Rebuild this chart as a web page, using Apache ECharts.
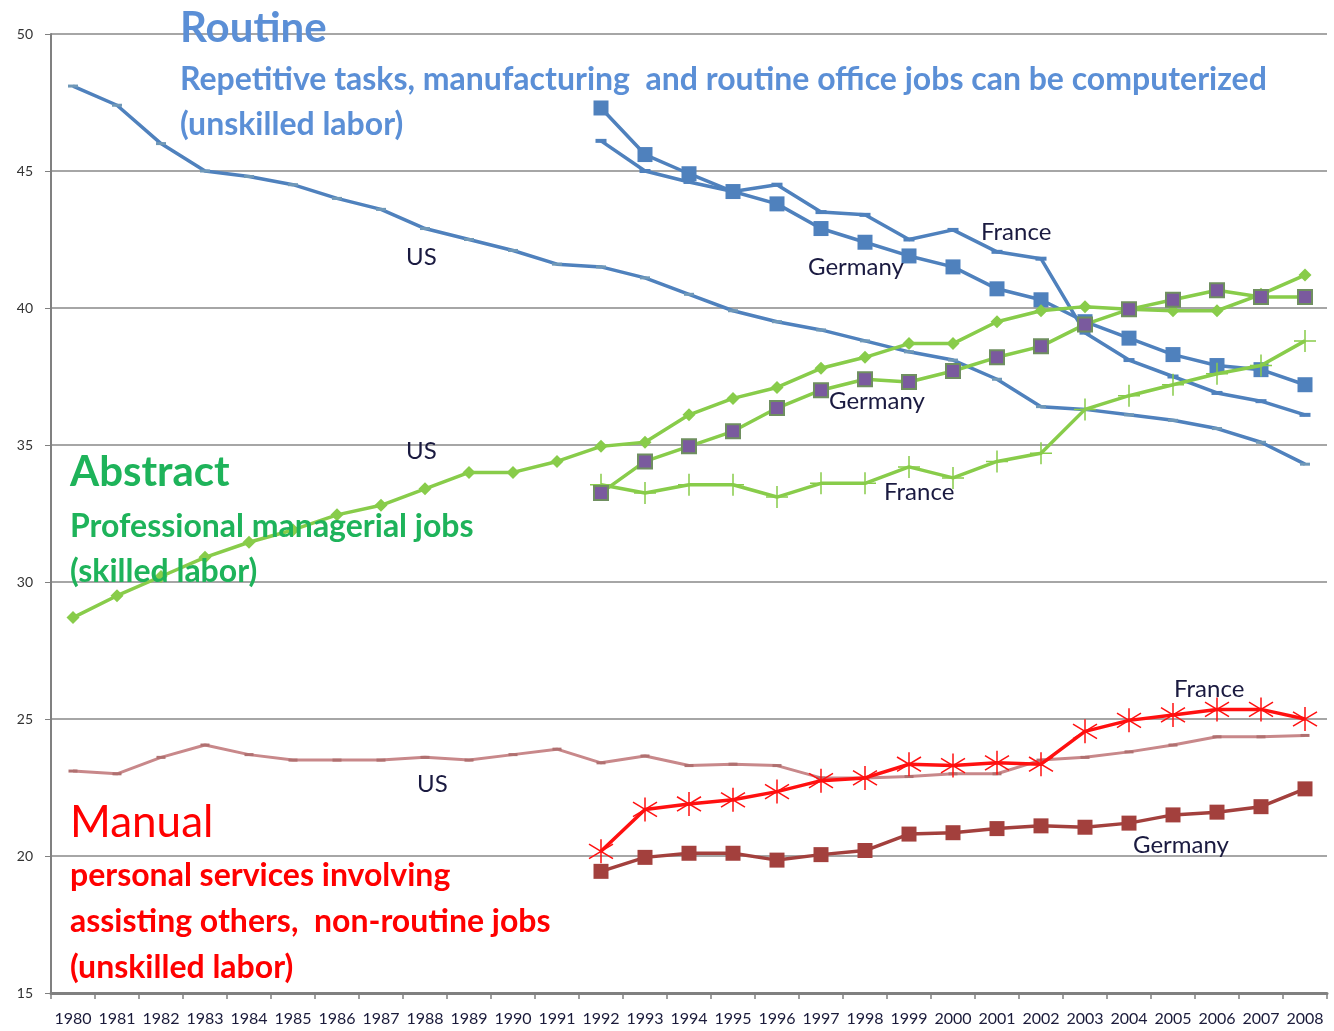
<!DOCTYPE html>
<html>
<head>
<meta charset="utf-8">
<script src="https://cdn.jsdelivr.net/npm/echarts@6/dist/echarts.min.js"></script>
<style>
  html, body { margin: 0; padding: 0; background: #fff; }
  #main { width: 1334px; height: 1031px; }
</style>
</head>
<body>
<div id="main"></div>
<script>
var years = ['1980','1981','1982','1983','1984','1985','1986','1987','1988','1989','1990','1991','1992','1993','1994','1995','1996','1997','1998','1999','2000','2001','2002','2003','2004','2005','2006','2007','2008'];
var yTicks = [15, 20, 25, 30, 35, 40, 45, 50];

// Routine
var routineUS = [48.1,47.4,46.0,45.0,44.8,44.5,44.0,43.6,42.9,42.5,42.1,41.6,41.5,41.1,40.5,39.9,39.5,39.2,38.8,38.4,38.1,37.4,36.4,36.3,36.1,35.9,35.6,35.1,34.3];
var routineGermany = [null,null,null,null,null,null,null,null,null,null,null,null,47.3,45.6,44.9,44.25,43.8,42.9,42.4,41.9,41.5,40.7,40.3,39.5,38.9,38.3,37.9,37.75,37.2];
var routineFrance = [null,null,null,null,null,null,null,null,null,null,null,null,46.1,45.0,44.6,44.25,44.5,43.5,43.4,42.5,42.85,42.05,41.8,39.1,38.1,37.5,36.9,36.6,36.1];

// Abstract
var abstractUS = [28.7,29.5,30.2,30.9,31.45,31.9,32.45,32.8,33.4,34.0,34.0,34.4,34.95,35.1,36.1,36.7,37.1,37.8,38.2,38.7,38.7,39.5,39.9,40.05,39.95,39.9,39.9,40.5,41.2];
var abstractGermany = [null,null,null,null,null,null,null,null,null,null,null,null,33.25,34.4,34.95,35.5,36.35,37.0,37.4,37.3,37.7,38.2,38.6,39.4,39.95,40.3,40.65,40.4,40.4];
var abstractFrance = [null,null,null,null,null,null,null,null,null,null,null,null,33.55,33.25,33.55,33.55,33.1,33.6,33.6,34.2,33.8,34.4,34.7,36.3,36.8,37.2,37.6,37.9,38.8];

// Manual
var manualUS = [23.1,23.0,23.6,24.05,23.7,23.5,23.5,23.5,23.6,23.5,23.7,23.9,23.4,23.65,23.3,23.35,23.3,22.85,22.85,22.9,23.0,23.0,23.5,23.6,23.8,24.05,24.35,24.35,24.4];
var manualFrance = [null,null,null,null,null,null,null,null,null,null,null,null,20.17,21.7,21.9,22.05,22.35,22.75,22.85,23.35,23.3,23.4,23.35,24.55,24.95,25.15,25.35,25.35,25.0];
var manualGermany = [null,null,null,null,null,null,null,null,null,null,null,null,19.44,19.95,20.1,20.1,19.85,20.05,20.2,20.8,20.85,21.0,21.1,21.05,21.2,21.5,21.6,21.8,22.45];

var BLUE = '#4f81bd';
var GREEN = '#88cc4a';
var PINK = '#c8888a';
var RED = '#ff1010';
var BROWN = '#a3403d';

var plusPath = 'path://M10,0L10,20M0,10L20,10';
var starPath = 'path://M10,0L10,20M1,4L19,16M1,16L19,4';

var FONT = 'Lato, "Open Sans", sans-serif';

function txt(x, y, s, size, color, weight) {
    return {
        type: 'text', x: x, y: y, z: 100,
        style: { text: s, fill: color, font: (weight || 'bold') + ' ' + size + 'px ' + FONT, verticalAlign: 'middle' }
    };
}

var myChart = echarts.init(document.getElementById('main'));
myChart.setOption({
    animation: false,
    backgroundColor: '#fff',
    grid: { left: 51, right: 7, top: 34, bottom: 38, containLabel: false },
    xAxis: {
        type: 'category',
        data: years,
        boundaryGap: true,
        axisLine: { lineStyle: { color: '#808080', width: 3 } },
        axisTick: { show: true, alignWithLabel: false, length: 6, lineStyle: { color: '#808080', width: 1.5 } },
        axisLabel: { interval: 0, color: '#1a1a3a', fontSize: 16, fontFamily: FONT, margin: 18 }
    },
    yAxis: {
        type: 'value',
        min: 15, max: 50, interval: 5,
        axisLine: { show: true, lineStyle: { color: '#808080', width: 2 } },
        axisTick: { show: true, length: 6, lineStyle: { color: '#808080' } },
        axisLabel: { color: '#333', fontSize: 14, fontFamily: FONT, margin: 18 },
        splitLine: { lineStyle: { color: '#a6a6a6', width: 2 } }
    },
    graphic: [
        txt(180, 28, 'Routine', 42, '#5b8fd6'),
        txt(180, 80, 'Repetitive tasks, manufacturing  and routine office jobs can be computerized', 32, '#5b8fd6'),
        txt(180, 125, '(unskilled labor)', 32, '#5b8fd6'),
        txt(70, 472, 'Abstract', 42, '#1eb35a'),
        txt(70, 527, 'Professional managerial jobs', 32, '#1eb35a'),
        txt(70, 572, '(skilled labor)', 32, '#1eb35a'),
        txt(70, 823, 'Manual', 44, '#ff0000', 'normal'),
        txt(70, 876, 'personal services involving', 32, '#ff0000'),
        txt(70, 922, 'assisting others,  non-routine jobs', 32, '#ff0000'),
        txt(70, 968, '(unskilled labor)', 32, '#ff0000'),
        txt(406, 257, 'US', 24, '#1a1a40', 'normal'),
        txt(808, 267, 'Germany', 24, '#1a1a40', 'normal'),
        txt(981, 232, 'France', 24, '#1a1a40', 'normal'),
        txt(406, 451, 'US', 24, '#1a1a40', 'normal'),
        txt(829, 401, 'Germany', 24, '#1a1a40', 'normal'),
        txt(884, 492, 'France', 24, '#1a1a40', 'normal'),
        txt(417, 784, 'US', 24, '#1a1a40', 'normal'),
        txt(1174, 689, 'France', 24, '#1a1a40', 'normal'),
        txt(1133, 845, 'Germany', 24, '#1a1a40', 'normal')
    ],
    series: [
        {
            name: 'Manual US', type: 'line', data: manualUS, z: 2,
            lineStyle: { color: PINK, width: 3 },
            symbol: 'rect', symbolSize: [9, 3],
            itemStyle: { color: '#b07070' }
        },
        {
            name: 'Manual Germany', type: 'line', data: manualGermany, z: 3,
            lineStyle: { color: BROWN, width: 3.5 },
            symbol: 'rect', symbolSize: 15,
            itemStyle: { color: BROWN }
        },
        {
            name: 'Manual France', type: 'line', data: manualFrance, z: 4,
            lineStyle: { color: RED, width: 3.5 },
            symbol: starPath, symbolSize: 24,
            itemStyle: { color: 'none', borderColor: RED, borderWidth: 1.5 }
        },
        {
            name: 'Routine US', type: 'line', data: routineUS, z: 3,
            lineStyle: { color: BLUE, width: 3.5 },
            symbol: 'rect', symbolSize: [10, 3],
            itemStyle: { color: '#6f98b8' }
        },
        {
            name: 'Routine France', type: 'line', data: routineFrance, z: 3,
            lineStyle: { color: BLUE, width: 3.5 },
            symbol: 'rect', symbolSize: [11, 4],
            itemStyle: { color: BLUE }
        },
        {
            name: 'Routine Germany', type: 'line', data: routineGermany, z: 4,
            lineStyle: { color: BLUE, width: 3.5 },
            symbol: 'rect', symbolSize: 15,
            itemStyle: { color: BLUE }
        },
        {
            name: 'Abstract France', type: 'line', data: abstractFrance, z: 5,
            lineStyle: { color: GREEN, width: 3.5 },
            symbol: plusPath, symbolSize: 22,
            itemStyle: { color: 'none', borderColor: GREEN, borderWidth: 1.5 }
        },
        {
            name: 'Abstract US', type: 'line', data: abstractUS, z: 5,
            lineStyle: { color: GREEN, width: 3.5 },
            symbol: 'diamond', symbolSize: 13,
            itemStyle: { color: GREEN }
        },
        {
            name: 'Abstract Germany', type: 'line', data: abstractGermany, z: 6,
            lineStyle: { color: GREEN, width: 3.5 },
            symbol: 'rect', symbolSize: 14,
            itemStyle: { color: '#7a5a9e', borderColor: '#6f8f60', borderWidth: 2 }
        }
    ]
});
</script>
</body>
</html>
